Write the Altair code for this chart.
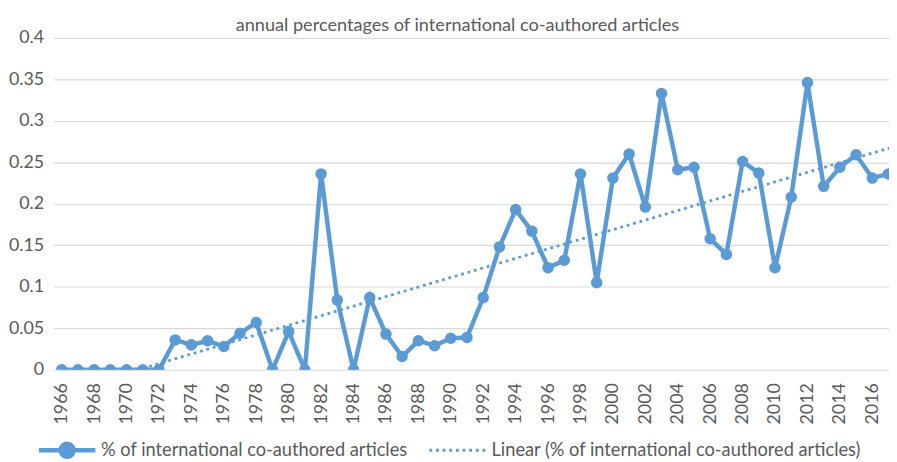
import altair as alt
import pandas as pd

years = list(range(1966, 2018))
values = [0, 0, 0, 0, 0, 0, 0,
          0.036, 0.030, 0.035, 0.028, 0.044, 0.057, 0, 0.046, 0, 0.236,
          0.084, 0, 0.087, 0.043, 0.016, 0.035, 0.029, 0.038, 0.039, 0.087,
          0.148, 0.193, 0.167, 0.123, 0.132, 0.236, 0.105, 0.231, 0.260, 0.196,
          0.333, 0.241, 0.244, 0.158, 0.139, 0.251, 0.237, 0.123, 0.208, 0.346,
          0.221, 0.244, 0.259, 0.231, 0.236]
tick_years = list(range(1966, 2017, 2))
y_ticks = [0, 0.05, 0.1, 0.15, 0.2, 0.25, 0.3, 0.35, 0.4]
series_name = "% of international co-authored articles"
trend_name = "Linear (% of international co-authored articles)"
title_text = "annual percentages of international co-authored articles"

BLUE = "#5b9bd5"
TEXT = "#595959"
FONT = "Lato"

df = pd.DataFrame({"year": years, "value": values, "series": series_name})

x_enc = alt.X("year:Q",
              scale=alt.Scale(domain=[1965.5, 2017.03], nice=False, zero=False),
              axis=alt.Axis(values=tick_years, format="d", labelAngle=270,
                            labelPadding=13, ticks=False, domain=False, grid=False,
                            labelFontSize=18),
              title=None)
y_enc = alt.Y("value:Q",
              scale=alt.Scale(domain=[0, 0.4], nice=False),
              axis=alt.Axis(values=y_ticks, format=".2~f", ticks=False, domain=False,
                            labelPadding=10, gridColor="#d9d9d9", gridWidth=1.2,
                            labelFontSize=18),
              title=None)

sym_line_circle = ("M-4.75,0H4.75M-1.083,0A1.083,1.083,0,1,0,1.083,0"
                   "A1.083,1.083,0,1,0,-1.083,0Z")
sym_line = "M-4.75,0H4.75"

main = alt.Chart(df).mark_line(
    strokeWidth=4.5, clip=True,
    point=alt.OverlayMarkDef(size=135, filled=True, opacity=1, clip=True)
).encode(
    x=x_enc, y=y_enc,
    color=alt.Color("series:N",
                    scale=alt.Scale(domain=[series_name], range=[BLUE]),
                    legend=alt.Legend(orient="none", legendX=4.5, legendY=407,
                                      title=None, padding=0,
                                      symbolType=sym_line_circle, symbolSize=144,
                                      symbolStrokeWidth=4.5, symbolFillColor=BLUE,
                                      symbolStrokeColor=BLUE,
                                      labelOffset=25, labelFontSize=18.4,
                                      labelFont=FONT, labelColor=TEXT, labelLimit=600))
)

trend = alt.Chart(df).transform_regression(
    "year", "value", extent=[1965.5, 2018]
).transform_calculate(
    trend=f"'{trend_name}'"
).mark_line(strokeWidth=2.8, clip=True, color=BLUE).encode(
    x=x_enc, y=y_enc,
    strokeDash=alt.StrokeDash("trend:N",
                              scale=alt.Scale(domain=[trend_name], range=[[2.8, 3.9]]),
                              legend=alt.Legend(orient="none", legendX=398.5, legendY=407,
                                                title=None, padding=0,
                                                symbolType=sym_line, symbolSize=144,
                                                symbolStrokeWidth=2.8,
                                                symbolStrokeColor=BLUE,
                                                labelOffset=25, labelFontSize=18.4,
                                                labelFont=FONT, labelColor=TEXT,
                                                labelLimit=600))
)

chart = alt.layer(main, trend).properties(
    width=843, height=335,
    autosize=alt.AutoSizeParams(type="none"),
    padding={"left": 46, "top": 28, "right": 0, "bottom": 91},
    title=alt.Title(title_text, fontSize=18.3, font=FONT, color=TEXT,
                    fontWeight="normal", anchor="middle", dx=-14, dy=29,
                    baseline="alphabetic", offset=9),
).configure_view(stroke=None).configure_axis(
    labelFont=FONT, labelColor=TEXT
)

chart.save("out.html", embed_options={"renderer": "svg", "actions": False})
